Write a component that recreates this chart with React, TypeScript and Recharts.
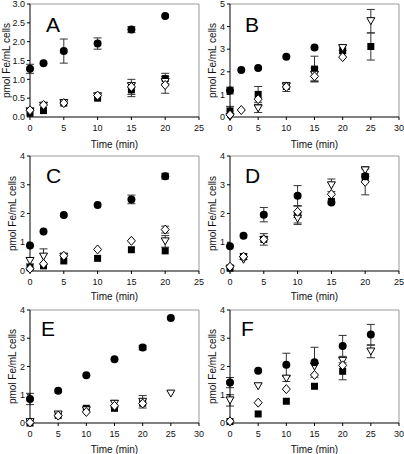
import { ScatterChart, Scatter, XAxis, YAxis, ErrorBar, ReferenceLine } from "recharts";

// time points (min)
const timesA = [0, 2, 5, 10, 15, 20];
const timesB = [0, 2, 5, 10, 15, 20, 25];
const timesC = [0, 2, 5, 10, 15, 20];
const timesD = [0, 2, 5, 10, 15, 20];
const timesE = [0, 5, 10, 15, 20, 25];
const timesF = [0, 5, 10, 15, 20, 25];

// panel A
const aCircle = [1.28, 1.43, 1.75, 1.95, 2.32, 2.68];
const aCircleErr = [0.12, 0, 0.32, 0.15, 0.08, 0];
const aSquare = [0.1, 0.17, 0.37, 0.5, 0.72, 1.02];
const aSquareErr = [0, 0, 0, 0, 0.18, 0.14];
const aDiamond = [0.18, 0.32, 0.37, 0.57, 0.8, 0.85];
const aDiamondErr = [0, 0, 0, 0, 0.2, 0.22];
const aTriangle = [0.15, 0.3, 0.37, 0.55, 0.82, 0.93];
const aTriangleErr = [0, 0, 0, 0, 0, 0];

// panel B
const bCircle = [1.17, 2.08, 2.17, 2.67, 3.08, null, null];
const bCircleErr = [0.15, 0, 0, 0, 0, 0, 0];
const bSquare = [0.27, null, 1.0, 1.35, 2.12, 2.93, 3.12];
const bSquareErr = [0.2, 0, 0.35, 0, 0.57, 0, 0.6];
const bDiamond = [0.1, 0.31, 0.79, 1.33, 1.8, 2.65, null];
const bDiamondErr = [0, 0, 0, 0.2, 0.2, 0, 0];
const bTriangle = [0.0, null, 0.38, 1.35, 1.87, 3.05, 4.24];
const bTriangleErr = [0, 0, 0.18, 0, 0.3, 0.1, 0.52];

// panel C
const cCircle = [0.89, 1.37, 1.95, 2.3, 2.49, 3.3];
const cCircleErr = [0, 0, 0, 0, 0.15, 0.1];
const cSquare = [0.12, 0.18, 0.35, 0.44, 0.74, 0.7];
const cSquareErr = [0, 0, 0, 0, 0, 0];
const cDiamond = [0.08, 0.25, 0.53, 0.75, 1.05, 1.44];
const cDiamondErr = [0, 0, 0, 0, 0, 0.12];
const cTriangle = [0.35, 0.5, 0.5, null, null, 1.03];
const cTriangleErr = [0.1, 0.27, 0, 0, 0, 0.2];

// panel D
const dCircle = [0.86, 1.23, 1.96, 2.62, 2.38, 3.3];
const dCircleErr = [0, 0, 0.25, 0.35, 0, 0];
const dSquare = [0.1, 0.5, 1.1, 1.97, 2.42, 3.25];
const dSquareErr = [0, 0, 0, 0.3, 0, 0];
const dDiamond = [0.15, 0.5, 1.1, 2.06, 2.67, 3.1];
const dDiamondErr = [0, 0.1, 0.2, 0.2, 0, 0.45];
const dTriangle = [0.08, 0.39, 1.08, 1.82, 2.98, 3.5];
const dTriangleErr = [0, 0, 0, 0.2, 0.22, 0.12];

// panel E
const eCircle = [0.85, 1.14, 1.69, 2.26, 2.67, 3.72];
const eCircleErr = [0.2, 0, 0, 0, 0.08, 0];
const eSquare = [0.0, 0.27, 0.52, 0.52, 0.7, null];
const eSquareErr = [0, 0, 0, 0, 0, 0];
const eDiamond = [0.02, 0.26, 0.39, 0.61, 0.69, null];
const eDiamondErr = [0, 0, 0, 0, 0, 0];
const eTriangle = [0.03, 0.3, 0.45, 0.68, 0.75, 1.04];
const eTriangleErr = [0, 0, 0, 0.12, 0.22, 0];

// panel F
const fCircle = [1.43, 1.85, 2.06, 2.15, 2.73, 3.13];
const fCircleErr = [0.18, 0, 0.41, 0.53, 0.37, 0.36];
const fSquare = [0.05, 0.32, 0.77, 1.3, 1.83, null];
const fSquareErr = [0, 0, 0, 0, 0.3, 0];
const fDiamond = [0.06, 0.72, 1.2, 1.7, 2.04, null];
const fDiamondErr = [0, 0, 0, 0, 0, 0];
const fTriangle = [0.8, 1.3, 1.57, 2.0, 2.2, 2.53];
const fTriangleErr = [0.2, 0, 0.1, 0, 0, 0.22];

const ticks25 = [0, 5, 10, 15, 20, 25];
const ticks30 = [0, 5, 10, 15, 20, 25, 30];
const ticksA = [0, 0.5, 1, 1.5, 2, 2.5, 3];
const ticksB = [0, 1, 2, 3, 4, 5];
const ticks4 = [0, 1, 2, 3, 4];

const FONT = "'Liberation Sans', Arial, sans-serif";

const pts = (times: number[], vals: (number | null)[], errs: number[]) =>
  times
    .map((t, i) => (vals[i] == null ? null : { t, v: vals[i], e: errs[i] }))
    .filter(Boolean) as { t: number; v: number; e: number }[];

const CircleShape = (p: any) => <circle cx={p.cx} cy={p.cy} r={4} fill="#000" />;
const SquareShape = (p: any) => <rect x={p.cx - 3.5} y={p.cy - 3.5} width={7} height={7} fill="#000" />;
const DiamondShape = (p: any) => (
  <path
    d={`M${p.cx},${p.cy - 4.5} L${p.cx + 4},${p.cy} L${p.cx},${p.cy + 4.5} L${p.cx - 4},${p.cy} Z`}
    fill="#fff"
    stroke="#000"
    strokeWidth={1}
  />
);
const TriangleShape = (p: any) => (
  <path
    d={`M${p.cx - 4},${p.cy - 3.5} L${p.cx + 4},${p.cy - 3.5} L${p.cx},${p.cy + 3.5} Z`}
    fill="#fff"
    stroke="#000"
    strokeWidth={1}
  />
);

const panels = [
  {
    id: "A", times: timesA, left: 0, top: 0, height: 150, axisH: 33, xMax: 25, xTicks: ticks25,
    yMax: 3, yTicks: ticksA, dec: 1, labelOffset: 6, xLabelOffset: 2, letter: [46, 14],
    series: [[aSquare, aSquareErr], [aTriangle, aTriangleErr], [aDiamond, aDiamondErr], [aCircle, aCircleErr]],
  },
  {
    id: "B", times: timesB, left: 200, top: 0, height: 150, axisH: 33, xMax: 30, xTicks: ticks30,
    yMax: 5, yTicks: ticksB, dec: 0, labelOffset: 12.5, xLabelOffset: 2, letter: [245, 14],
    series: [[bSquare, bSquareErr], [bTriangle, bTriangleErr], [bDiamond, bDiamondErr], [bCircle, bCircleErr]],
  },
  {
    id: "C", times: timesC, left: 0, top: 152, height: 152, axisH: 33, xMax: 25, xTicks: ticks25,
    yMax: 4, yTicks: ticks4, dec: 0, labelOffset: 12, xLabelOffset: 4, letter: [46, 165],
    series: [[cSquare, cSquareErr], [cTriangle, cTriangleErr], [cDiamond, cDiamondErr], [cCircle, cCircleErr]],
  },
  {
    id: "D", times: timesD, left: 200, top: 152, height: 152, axisH: 33, xMax: 25, xTicks: ticks25,
    yMax: 4, yTicks: ticks4, dec: 0, labelOffset: 12.5, xLabelOffset: 4, letter: [245, 165],
    series: [[dSquare, dSquareErr], [dTriangle, dTriangleErr], [dDiamond, dDiamondErr], [dCircle, dCircleErr]],
  },
  {
    id: "E", times: timesE, left: 0, top: 306, height: 148, axisH: 31, xMax: 30, xTicks: ticks30,
    yMax: 4, yTicks: ticks4, dec: 0, labelOffset: 12, xLabelOffset: 1, letter: [41, 318],
    series: [[eSquare, eSquareErr], [eTriangle, eTriangleErr], [eDiamond, eDiamondErr], [eCircle, eCircleErr]],
  },
  {
    id: "F", times: timesF, left: 200, top: 306, height: 148, axisH: 31, xMax: 30, xTicks: ticks30,
    yMax: 4, yTicks: ticks4, dec: 0, labelOffset: 12.5, xLabelOffset: 1, letter: [241, 318],
    series: [[fSquare, fSquareErr], [fTriangle, fTriangleErr], [fDiamond, fDiamondErr], [fCircle, fCircleErr]],
  },
];

const shapes = [SquareShape, TriangleShape, DiamondShape, CircleShape];

const tickStyle = { fontSize: 9, fill: "#111", fontFamily: FONT };

// chart is wider than its 200px slot so the last x tick label is not clipped
const CHART_W = 213;

const Panel = ({ p }: { p: (typeof panels)[number] }) => (
  <div style={{ position: "absolute", left: p.left, top: p.top, width: CHART_W, height: p.height }}>
    <ScatterChart width={CHART_W} height={p.height} margin={{ top: 4, right: 14, left: 0, bottom: 0 }}>
      <XAxis
        type="number"
        dataKey="t"
        domain={[0, p.xMax]}
        ticks={p.xTicks}
        interval={0}
        height={p.axisH}
        tick={tickStyle}
        tickSize={3}
        tickMargin={5}
        stroke="#000"
        label={{
          value: "Time (min)",
          position: "insideBottom",
          offset: p.xLabelOffset,
          style: { fontSize: 10, fill: "#111", fontFamily: FONT },
        }}
      />
      <YAxis
        type="number"
        dataKey="v"
        domain={[0, p.yMax]}
        ticks={p.yTicks}
        interval={0}
        width={30}
        tick={tickStyle}
        tickSize={3}
        tickMargin={2}
        stroke="#000"
        tickFormatter={(v: number) => v.toFixed(p.dec)}
        label={{
          value: "pmol Fe/mL cells",
          angle: -90,
          position: "insideLeft",
          offset: p.labelOffset,
          style: { fontSize: 10, fill: "#111", fontFamily: FONT, textAnchor: "middle" },
        }}
      />
      <ReferenceLine y={p.yMax} stroke="#999" strokeWidth={1} />
      <ReferenceLine x={p.xMax} stroke="#999" strokeWidth={1} />
      {p.series.map(([vals, errs], i) => (
        <Scatter
          key={i}
          data={pts(p.times, vals as (number | null)[], errs as number[])}
          shape={shapes[i]}
          isAnimationActive={false}
        >
          <ErrorBar dataKey="e" direction="y" width={4} stroke="#333" strokeWidth={1} />
        </Scatter>
      ))}
    </ScatterChart>
    <div
      style={{
        position: "absolute",
        left: p.letter[0] - p.left,
        top: p.letter[1] - p.top,
        fontSize: 21,
        fontFamily: FONT,
        lineHeight: 1,
        color: "#000",
      }}
    >
      {p.id}
    </div>
  </div>
);

export default function App() {
  return (
    <div
      style={{
        position: "absolute",
        left: 0,
        top: 0,
        width: 404,
        height: 454,
        overflow: "hidden",
        background: "#fff",
        fontFamily: FONT,
      }}
    >
      {panels.map((p) => (
        <Panel key={p.id} p={p} />
      ))}
    </div>
  );
}
